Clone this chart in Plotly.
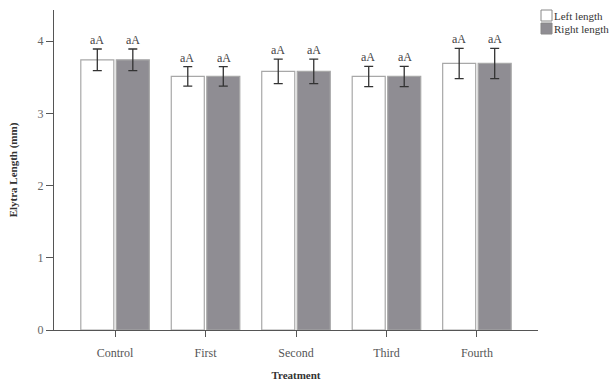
import plotly.graph_objects as go

treatments = ["Control", "First", "Second", "Third", "Fourth"]
left_length = [3.74, 3.51, 3.58, 3.51, 3.69]
left_err = [0.15, 0.135, 0.17, 0.14, 0.21]
right_length = [3.74, 3.51, 3.58, 3.51, 3.69]
right_err = [0.15, 0.135, 0.17, 0.14, 0.21]
left_letters = ["aA", "aA", "aA", "aA", "aA"]
right_letters = ["aA", "aA", "aA", "aA", "aA"]
series_names = ["Left length", "Right length"]

FONT = "Liberation Serif"
WHITE_FILL = "#ffffff"
GREY_FILL = "#8f8d93"
OUTLINE = "#a8a8a8"
AXIS = "#555555"

fig = go.Figure()
for name, vals, errs, fill in [
    (series_names[0], left_length, left_err, WHITE_FILL),
    (series_names[1], right_length, right_err, GREY_FILL),
]:
    fig.add_trace(go.Bar(
        x=treatments, y=vals, name=name,
        marker=dict(color=fill, line=dict(color=OUTLINE, width=1.2)),
        error_y=dict(type="data", array=errs, visible=True,
                     color="#333333", thickness=1.3, width=4.5),
        showlegend=False,
    ))

# significance letters above each error bar
offsets = [-0.2, 0.2]
for k, (vals, errs, letters) in enumerate([
    (left_length, left_err, left_letters),
    (right_length, right_err, right_letters),
]):
    for i, (v, e, t) in enumerate(zip(vals, errs, letters)):
        fig.add_annotation(
            x=i + offsets[k], y=v + e, xref="x", yref="y",
            text=t, showarrow=False, yanchor="bottom", yshift=0,
            font=dict(family=FONT, size=12, color="#444444"),
        )

# legend drawn as swatches with labels in the top-right corner
for j, (name, fill) in enumerate(zip(series_names, [WHITE_FILL, GREY_FILL])):
    y0 = 1 - (j * 13) / 320.0
    fig.add_shape(type="rect", xref="paper", yref="paper",
                  x0=(541 - 54) / 484.0, x1=(552 - 54) / 484.0,
                  y0=y0 - 11 / 320.0, y1=y0,
                  fillcolor=fill, line=dict(color="#888888", width=1))
    fig.add_annotation(x=(552 - 54) / 484.0, y=y0 - 5.5 / 320.0,
                       xref="paper", yref="paper", text=name,
                       showarrow=False, xanchor="left", yanchor="middle",
                       font=dict(family=FONT, size=11, color="#333333"))

fig.update_layout(
    width=609, height=387,
    margin=dict(l=54, r=71, t=10, b=57),
    paper_bgcolor="white", plot_bgcolor="white",
    barmode="group", bargap=0.215, bargroupgap=0.07,
    font=dict(family=FONT, size=12, color="#555555"),
    xaxis=dict(
        range=[-0.675, 4.675], showgrid=False, zeroline=False,
        showline=True, linecolor=AXIS, linewidth=1.3,
        ticks="outside", ticklen=6, tickcolor=AXIS, tickwidth=1.3,
        ticklabelstandoff=5, automargin=False,
        tickfont=dict(family=FONT, size=12, color="#555555"),
        title=dict(text="<b>Treatment</b>", standoff=12,
                   font=dict(family=FONT, size=11, color="#333333")),
    ),
    yaxis=dict(
        range=[0, 4.43], showgrid=False, zeroline=False,
        showline=True, linecolor=AXIS, linewidth=1.3,
        ticks="outside", ticklen=7, tickcolor=AXIS, tickwidth=1.3,
        tickvals=[0, 1, 2, 3, 4], automargin=False,
        tickfont=dict(family=FONT, size=12, color="#666666"),
        title=dict(text="<b>Elytra Length (mm)</b>", standoff=17,
                   font=dict(family=FONT, size=11, color="#333333")),
    ),
)

fig.write_html("out.html")
